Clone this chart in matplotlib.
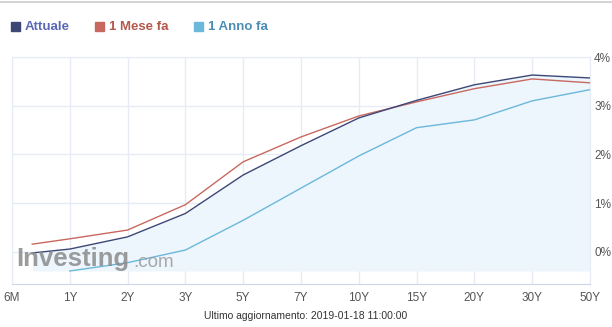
import numpy as np
import matplotlib.pyplot as plt

plt.rcParams['font.family'] = ['Liberation Sans', 'DejaVu Sans']

# tenor labels on the axis and the point positions (index units, first point sits before 1Y)
tick_labels = ['6M', '1Y', '2Y', '3Y', '5Y', '7Y', '10Y', '15Y', '20Y', '30Y', '50Y']
x_pts = [0.35, 1, 2, 3, 4, 5, 6, 7, 8, 9, 10]

attuale = [-0.02, 0.06, 0.31, 0.79, 1.58, 2.18, 2.75, 3.11, 3.43, 3.63, 3.57]
mese_fa = [0.16, 0.27, 0.45, 0.97, 1.85, 2.36, 2.79, 3.08, 3.35, 3.55, 3.47]
anno_fa = [None, -0.39, -0.22, 0.04, 0.65, 1.31, 1.97, 2.55, 2.71, 3.10, 3.33]
fill_base = -0.39

c_att = '#3c4775'
c_mese = '#c8695f'
c_anno = '#6bb8da'

fig = plt.figure(figsize=(6.12, 3.27), dpi=100)
ax = fig.add_axes([12/612, 43/327, 578/612, 227/327])

ax.fill_between(x_pts, attuale, fill_base, color='#edf5fd', lw=0, zorder=1)

xa = [x for x, v in zip(x_pts, anno_fa) if v is not None]
va = [v for v in anno_fa if v is not None]
ax.plot(xa, va, color=c_anno, lw=1.0, zorder=3)
ax.plot(x_pts, mese_fa, color=c_mese, lw=1.0, zorder=3)
ax.plot(x_pts, attuale, color=c_att, lw=1.0, zorder=4)

ax.set_xlim(0, 10)
ax.set_ylim(-0.657, 4.0)
ax.set_xticks(range(len(tick_labels)))
ax.set_xticklabels(tick_labels)
ax.set_yticks([0, 1, 2, 3, 4])
ax.set_yticklabels(['0%', '1%', '2%', '3%', '4%'])
ax.yaxis.tick_right()
ax.tick_params(length=0, labelsize=8.5, colors='#555555')
ax.tick_params(axis='x', pad=6)
ax.tick_params(axis='y', pad=3)
ax.grid(True, color='#e6ebf5', lw=1, zorder=0)
ax.set_axisbelow(True)
for side in ['left', 'top', 'right']:
    ax.spines[side].set_color('#e6ebf5')
ax.spines['bottom'].set_color('#ccd6eb')

# watermark
ax.text(0.08, -0.40, 'Investing', fontsize=18.5, fontweight='bold', color='#8a8a8a',
        alpha=0.85, va='bottom', ha='left', zorder=5)
ax.text(2.1, -0.40, '.com', fontsize=13.5, color='#9a9a9a', alpha=0.85,
        va='bottom', ha='left', zorder=5)

# legend row
items = [('Attuale', c_att, '#5b68b5', 11), ('1 Mese fa', c_mese, '#b4574d', 95),
         ('1 Anno fa', c_anno, '#4c8db3', 194)]
for name, sq, tc, x0 in items:
    fig.patches.append(plt.Rectangle((x0/612, 1 - 31/327), 9/612, 9/327,
                                     transform=fig.transFigure, color=sq))
    fig.text((x0 + 14)/612, 1 - 26.5/327, name, fontsize=9.5, fontweight='bold',
             color=tc, va='center', ha='left')

fig.add_artist(plt.Line2D([0, 1], [1 - 1.5/327, 1 - 1.5/327], color='#cccccc', lw=1.2))

fig.text(306/612, 1 - 316/327, 'Ultimo aggiornamento: 2019-01-18 11:00:00',
         fontsize=7.5, color='#333333', ha='center', va='center')

fig.savefig('out.png', dpi=100)
